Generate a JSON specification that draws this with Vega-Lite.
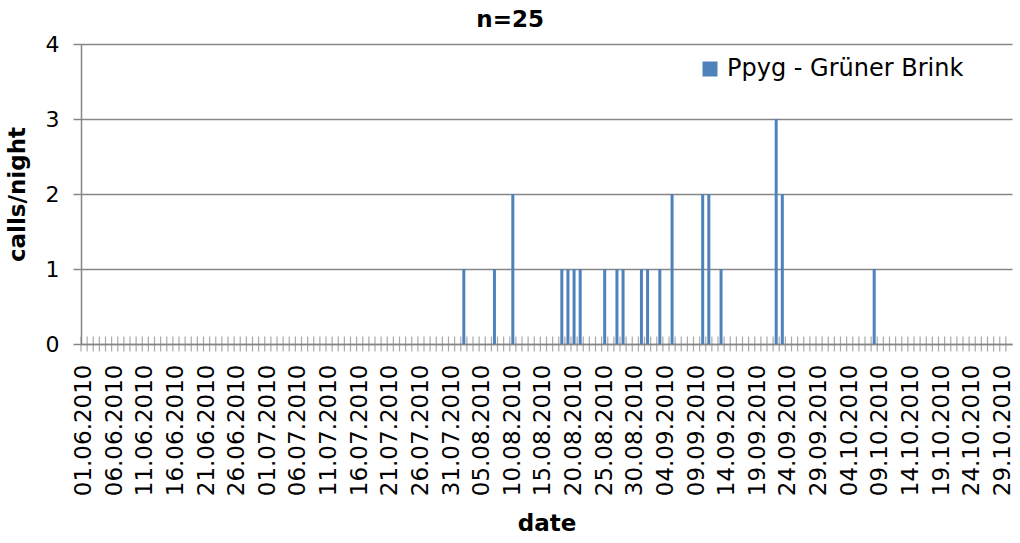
{
  "$schema": "https://vega.github.io/schema/vega-lite/v6.json",
  "autosize": "none",
  "width": 931,
  "height": 300,
  "padding": {"left": 81, "top": 44, "right": 8, "bottom": 199},
  "background": "white",
  "title": {"text": "n=25", "fontSize": 23, "fontWeight": "bold", "font": "DejaVu Sans", "color": "#000000", "anchor": "middle", "frame": "bounds", "offset": 1},
  "config": {
    "font": "DejaVu Sans",
    "view": {"stroke": null}
  },
  "data": {
    "values": [
      {"date": "01.06.2010", "calls": 0}, {"date": "02.06.2010", "calls": 0}, {"date": "03.06.2010", "calls": 0}, {"date": "04.06.2010", "calls": 0}, {"date": "05.06.2010", "calls": 0},
      {"date": "06.06.2010", "calls": 0}, {"date": "07.06.2010", "calls": 0}, {"date": "08.06.2010", "calls": 0}, {"date": "09.06.2010", "calls": 0}, {"date": "10.06.2010", "calls": 0},
      {"date": "11.06.2010", "calls": 0}, {"date": "12.06.2010", "calls": 0}, {"date": "13.06.2010", "calls": 0}, {"date": "14.06.2010", "calls": 0}, {"date": "15.06.2010", "calls": 0},
      {"date": "16.06.2010", "calls": 0}, {"date": "17.06.2010", "calls": 0}, {"date": "18.06.2010", "calls": 0}, {"date": "19.06.2010", "calls": 0}, {"date": "20.06.2010", "calls": 0},
      {"date": "21.06.2010", "calls": 0}, {"date": "22.06.2010", "calls": 0}, {"date": "23.06.2010", "calls": 0}, {"date": "24.06.2010", "calls": 0}, {"date": "25.06.2010", "calls": 0},
      {"date": "26.06.2010", "calls": 0}, {"date": "27.06.2010", "calls": 0}, {"date": "28.06.2010", "calls": 0}, {"date": "29.06.2010", "calls": 0}, {"date": "30.06.2010", "calls": 0},
      {"date": "01.07.2010", "calls": 0}, {"date": "02.07.2010", "calls": 0}, {"date": "03.07.2010", "calls": 0}, {"date": "04.07.2010", "calls": 0}, {"date": "05.07.2010", "calls": 0},
      {"date": "06.07.2010", "calls": 0}, {"date": "07.07.2010", "calls": 0}, {"date": "08.07.2010", "calls": 0}, {"date": "09.07.2010", "calls": 0}, {"date": "10.07.2010", "calls": 0},
      {"date": "11.07.2010", "calls": 0}, {"date": "12.07.2010", "calls": 0}, {"date": "13.07.2010", "calls": 0}, {"date": "14.07.2010", "calls": 0}, {"date": "15.07.2010", "calls": 0},
      {"date": "16.07.2010", "calls": 0}, {"date": "17.07.2010", "calls": 0}, {"date": "18.07.2010", "calls": 0}, {"date": "19.07.2010", "calls": 0}, {"date": "20.07.2010", "calls": 0},
      {"date": "21.07.2010", "calls": 0}, {"date": "22.07.2010", "calls": 0}, {"date": "23.07.2010", "calls": 0}, {"date": "24.07.2010", "calls": 0}, {"date": "25.07.2010", "calls": 0},
      {"date": "26.07.2010", "calls": 0}, {"date": "27.07.2010", "calls": 0}, {"date": "28.07.2010", "calls": 0}, {"date": "29.07.2010", "calls": 0}, {"date": "30.07.2010", "calls": 0},
      {"date": "31.07.2010", "calls": 0},
      {"date": "01.08.2010", "calls": 0}, {"date": "02.08.2010", "calls": 1}, {"date": "03.08.2010", "calls": 0}, {"date": "04.08.2010", "calls": 0}, {"date": "05.08.2010", "calls": 0},
      {"date": "06.08.2010", "calls": 0}, {"date": "07.08.2010", "calls": 1}, {"date": "08.08.2010", "calls": 0}, {"date": "09.08.2010", "calls": 0}, {"date": "10.08.2010", "calls": 2},
      {"date": "11.08.2010", "calls": 0}, {"date": "12.08.2010", "calls": 0}, {"date": "13.08.2010", "calls": 0}, {"date": "14.08.2010", "calls": 0}, {"date": "15.08.2010", "calls": 0},
      {"date": "16.08.2010", "calls": 0}, {"date": "17.08.2010", "calls": 0}, {"date": "18.08.2010", "calls": 1}, {"date": "19.08.2010", "calls": 1}, {"date": "20.08.2010", "calls": 1},
      {"date": "21.08.2010", "calls": 1}, {"date": "22.08.2010", "calls": 0}, {"date": "23.08.2010", "calls": 0}, {"date": "24.08.2010", "calls": 0}, {"date": "25.08.2010", "calls": 1},
      {"date": "26.08.2010", "calls": 0}, {"date": "27.08.2010", "calls": 1}, {"date": "28.08.2010", "calls": 1}, {"date": "29.08.2010", "calls": 0}, {"date": "30.08.2010", "calls": 0},
      {"date": "31.08.2010", "calls": 1},
      {"date": "01.09.2010", "calls": 1}, {"date": "02.09.2010", "calls": 0}, {"date": "03.09.2010", "calls": 1}, {"date": "04.09.2010", "calls": 0}, {"date": "05.09.2010", "calls": 2},
      {"date": "06.09.2010", "calls": 0}, {"date": "07.09.2010", "calls": 0}, {"date": "08.09.2010", "calls": 0}, {"date": "09.09.2010", "calls": 0}, {"date": "10.09.2010", "calls": 2},
      {"date": "11.09.2010", "calls": 2}, {"date": "12.09.2010", "calls": 0}, {"date": "13.09.2010", "calls": 1}, {"date": "14.09.2010", "calls": 0}, {"date": "15.09.2010", "calls": 0},
      {"date": "16.09.2010", "calls": 0}, {"date": "17.09.2010", "calls": 0}, {"date": "18.09.2010", "calls": 0}, {"date": "19.09.2010", "calls": 0}, {"date": "20.09.2010", "calls": 0},
      {"date": "21.09.2010", "calls": 0}, {"date": "22.09.2010", "calls": 3}, {"date": "23.09.2010", "calls": 2}, {"date": "24.09.2010", "calls": 0}, {"date": "25.09.2010", "calls": 0},
      {"date": "26.09.2010", "calls": 0}, {"date": "27.09.2010", "calls": 0}, {"date": "28.09.2010", "calls": 0}, {"date": "29.09.2010", "calls": 0}, {"date": "30.09.2010", "calls": 0},
      {"date": "01.10.2010", "calls": 0}, {"date": "02.10.2010", "calls": 0}, {"date": "03.10.2010", "calls": 0}, {"date": "04.10.2010", "calls": 0}, {"date": "05.10.2010", "calls": 0},
      {"date": "06.10.2010", "calls": 0}, {"date": "07.10.2010", "calls": 0}, {"date": "08.10.2010", "calls": 1}, {"date": "09.10.2010", "calls": 0}, {"date": "10.10.2010", "calls": 0},
      {"date": "11.10.2010", "calls": 0}, {"date": "12.10.2010", "calls": 0}, {"date": "13.10.2010", "calls": 0}, {"date": "14.10.2010", "calls": 0}, {"date": "15.10.2010", "calls": 0},
      {"date": "16.10.2010", "calls": 0}, {"date": "17.10.2010", "calls": 0}, {"date": "18.10.2010", "calls": 0}, {"date": "19.10.2010", "calls": 0}, {"date": "20.10.2010", "calls": 0},
      {"date": "21.10.2010", "calls": 0}, {"date": "22.10.2010", "calls": 0}, {"date": "23.10.2010", "calls": 0}, {"date": "24.10.2010", "calls": 0}, {"date": "25.10.2010", "calls": 0},
      {"date": "26.10.2010", "calls": 0}, {"date": "27.10.2010", "calls": 0}, {"date": "28.10.2010", "calls": 0}, {"date": "29.10.2010", "calls": 0}, {"date": "30.10.2010", "calls": 0}
    ]
  },
  "encoding": {
    "x": {
      "field": "date",
      "type": "ordinal",
      "sort": null,
      "scale": {"paddingInner": 0, "paddingOuter": 0},
      "axis": {
        "title": "date",
        "titleFontSize": 23,
        "titleFontWeight": "bold",
        "titleColor": "#000000",
        "titlePadding": 17,
        "labelAngle": 270,
        "labelFontSize": 23,
        "labelColor": "#000000",
        "labelPadding": 20,
        "labelOverlap": false,
        "ticks": false,
        "domainColor": "#868686",
        "domainWidth": 1.5,
        "grid": false,
        "values": ["01.06.2010", "06.06.2010", "11.06.2010", "16.06.2010", "21.06.2010", "26.06.2010", "01.07.2010", "06.07.2010", "11.07.2010", "16.07.2010", "21.07.2010", "26.07.2010", "31.07.2010", "05.08.2010", "10.08.2010", "15.08.2010", "20.08.2010", "25.08.2010", "30.08.2010", "04.09.2010", "09.09.2010", "14.09.2010", "19.09.2010", "24.09.2010", "29.09.2010", "04.10.2010", "09.10.2010", "14.10.2010", "19.10.2010", "24.10.2010", "29.10.2010"]
      }
    },
    "y": {
      "field": "calls",
      "type": "quantitative",
      "scale": {"domain": [0, 4]},
      "axis": {
        "title": "calls/night",
        "titleFontSize": 23,
        "titleFontWeight": "bold",
        "titleColor": "#000000",
        "titlePadding": 16,
        "values": [0, 1, 2, 3, 4],
        "format": "d",
        "labelFontSize": 22,
        "labelColor": "#000000",
        "labelPadding": 14,
        "tickSize": 8,
        "tickColor": "#868686",
        "tickWidth": 1.5,
        "domainColor": "#868686",
        "domainWidth": 1.5,
        "grid": true,
        "gridColor": "#868686",
        "gridWidth": 1.5
      }
    }
  },
  "layer": [
    {
      "mark": {"type": "bar", "width": 3},
      "encoding": {
        "color": {
          "datum": "Ppyg - Grüner Brink",
          "type": "nominal",
          "scale": {"range": ["#4F81BD"]},
          "legend": {
            "title": null,
            "orient": "none",
            "legendX": 617,
            "legendY": 13,
            "padding": 0,
            "symbolType": "square",
            "symbolSize": 225,
            "symbolStrokeWidth": 0,
            "labelFontSize": 24,
            "labelLimit": 500,
            "labelColor": "#000000",
            "labelOffset": 5
          }
        }
      }
    },
    {
      "mark": {"type": "tick", "orient": "vertical", "size": 15, "thickness": 1.2, "color": "#868686"},
      "encoding": {
        "x": {"field": "date", "type": "ordinal", "sort": null, "bandPosition": 0},
        "y": {"datum": 0, "type": "quantitative"}
      }
    }
  ]
}
